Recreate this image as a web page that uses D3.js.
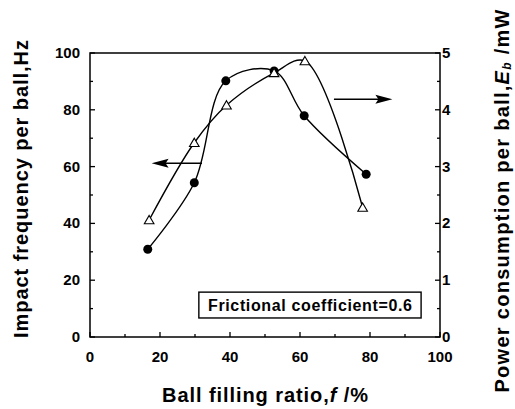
<!DOCTYPE html>
<html>
<head>
    <script src="https://d3js.org/d3.v7.min.js"></script>
    <style>
        body { margin: 0; background: #fff; }
        text { font-family: "Liberation Sans", Arial, sans-serif; font-weight: bold; fill: #000; }
    </style>
</head>
<body>
    <svg width="515" height="409"></svg>

    <script>
        // ball filling ratio f (%)
        var fillCircle = [16.5, 29.8, 38.8, 52.6, 61.2, 78.9];
        // impact frequency per ball (Hz), left axis
        var impactFreq = [30.9, 54.3, 90.2, 93.7, 77.9, 57.3];

        var fillTriangle = [16.9, 29.8, 39.0, 52.6, 61.4, 77.9];
        // power consumption per ball (mW), right axis
        var powerCons = [2.06, 3.42, 4.08, 4.65, 4.86, 2.28];

        var xTicks = [0, 20, 40, 60, 80, 100];
        var yLeftTicks = [0, 20, 40, 60, 80, 100];
        var yRightTicks = [0, 1, 2, 3, 4, 5];

        // arrows: [f start, f end, left-axis level]
        var arrowLeft = [32.0, 17.6, 61.2];
        var arrowRight = [69.7, 86.4, 83.7];

        var width = 515, height = 409;
        var margin = {left: 90, right: 75, top: 53, bottom: 72};

        var svg = d3.select("svg");

        var x = d3.scaleLinear().domain([0, 100]).range([margin.left, width - margin.right]);
        var yL = d3.scaleLinear().domain([0, 100]).range([height - margin.bottom, margin.top]);
        var yR = d3.scaleLinear().domain([0, 5]).range([height - margin.bottom, margin.top]);

        // frame
        svg.append("rect")
            .attr("x", x(0)).attr("y", yL(100))
            .attr("width", x(100) - x(0)).attr("height", yL(0) - yL(100))
            .attr("fill", "none").attr("stroke", "#000").attr("stroke-width", 1.5);

        // inward ticks
        var ticks = svg.append("g").attr("stroke", "#000").attr("stroke-width", 1.3);
        d3.range(0, 101, 10).forEach(function(v) {
            var len = v % 20 === 0 ? 5 : 3;
            ticks.append("line").attr("x1", x(v)).attr("x2", x(v))
                .attr("y1", yL(0)).attr("y2", yL(0) - len);
            ticks.append("line").attr("x1", x(0)).attr("x2", x(0) + len)
                .attr("y1", yL(v)).attr("y2", yL(v));
        });
        d3.range(0, 5.01, 0.5).forEach(function(v) {
            var len = v % 1 === 0 ? 5 : 3;
            ticks.append("line").attr("x1", x(100)).attr("x2", x(100) - len)
                .attr("y1", yR(v)).attr("y2", yR(v));
        });

        // tick labels
        svg.selectAll(".xl").data(xTicks).enter().append("text")
            .attr("x", function(d) { return x(d); })
            .attr("y", 362)
            .attr("text-anchor", "middle")
            .style("font-size", "15px")
            .text(function(d) { return d; });

        svg.selectAll(".yl").data(yLeftTicks).enter().append("text")
            .attr("x", 80)
            .attr("y", function(d) { return yL(d) + 5; })
            .attr("text-anchor", "end")
            .style("font-size", "15px")
            .text(function(d) { return d; });

        svg.selectAll(".yr").data(yRightTicks).enter().append("text")
            .attr("x", 442)
            .attr("y", function(d) { return yR(d) + 5; })
            .attr("text-anchor", "start")
            .style("font-size", "15px")
            .text(function(d) { return d; });

        // axis titles
        svg.append("text")
            .attr("x", 265).attr("y", 402)
            .attr("text-anchor", "middle")
            .attr("textLength", 206).attr("lengthAdjust", "spacing")
            .style("font-size", "20px")
            .html('Ball filling ratio,<tspan font-style="italic">f</tspan> /%');

        svg.append("text")
            .attr("transform", "translate(28,189) rotate(-90)")
            .attr("text-anchor", "middle")
            .attr("textLength", 298).attr("lengthAdjust", "spacing")
            .style("font-size", "20px")
            .text("Impact frequency per ball,Hz");

        svg.append("text")
            .attr("transform", "translate(509,201) rotate(-90)")
            .attr("text-anchor", "middle")
            .attr("textLength", 383).attr("lengthAdjust", "spacing")
            .style("font-size", "20px")
            .html('Power consumption per ball,<tspan font-style="italic">E</tspan><tspan font-size="12px" font-style="italic" dy="2">b</tspan><tspan dy="-2"> /mW</tspan>');

        // curves
        var circlePts = fillCircle.map(function(f, i) { return [f, impactFreq[i]]; });
        var triPts = fillTriangle.map(function(f, i) { return [f, powerCons[i]]; });

        svg.append("path")
            .datum(circlePts)
            .attr("fill", "none").attr("stroke", "#000").attr("stroke-width", 1.4)
            .attr("d", d3.line()
                .x(function(d) { return x(d[0]); })
                .y(function(d) { return yL(d[1]); })
                .curve(d3.curveCatmullRom.alpha(0.5)));

        svg.append("path")
            .datum(triPts)
            .attr("fill", "none").attr("stroke", "#000").attr("stroke-width", 1.4)
            .attr("d", d3.line()
                .x(function(d) { return x(d[0]); })
                .y(function(d) { return yR(d[1]); })
                .curve(d3.curveCatmullRom.alpha(0.5)));

        // markers
        svg.selectAll(".dot").data(circlePts).enter().append("circle")
            .attr("cx", function(d) { return x(d[0]); })
            .attr("cy", function(d) { return yL(d[1]); })
            .attr("r", 4.5)
            .attr("fill", "#000");

        svg.selectAll(".tri").data(triPts).enter().append("path")
            .attr("d", d3.symbol().type(d3.symbolTriangle).size(40))
            .attr("transform", function(d) { return "translate(" + x(d[0]) + "," + (yR(d[1]) + 1) + ")"; })
            .attr("fill", "#fff").attr("stroke", "#000").attr("stroke-width", 1.1);

        // arrows
        function drawArrow(a) {
            var x1 = x(a[0]), x2 = x(a[1]), yy = yL(a[2]);
            var dir = x2 > x1 ? 1 : -1;
            svg.append("line")
                .attr("x1", x1).attr("x2", x2 - dir * 10)
                .attr("y1", yy).attr("y2", yy)
                .attr("stroke", "#000").attr("stroke-width", 1.5);
            svg.append("path")
                .attr("d", "M" + x2 + "," + yy + "L" + (x2 - dir * 17) + "," + (yy - 4.5) +
                    "L" + (x2 - dir * 14) + "," + yy + "L" + (x2 - dir * 17) + "," + (yy + 4.5) + "Z")
                .attr("fill", "#000");
        }
        drawArrow(arrowLeft);
        drawArrow(arrowRight);

        // note box
        var box = svg.append("g");
        box.append("rect")
            .attr("x", x(31.1)).attr("y", yL(15.8))
            .attr("width", x(94.6) - x(31.1)).attr("height", yL(6.7) - yL(15.8))
            .attr("fill", "#fff").attr("stroke", "#000").attr("stroke-width", 1.4);
        box.append("text")
            .attr("x", (x(31.1) + x(94.6)) / 2).attr("y", yL(15.8) + 19)
            .attr("text-anchor", "middle")
            .attr("textLength", 204).attr("lengthAdjust", "spacing")
            .style("font-size", "16px")
            .text("Frictional coefficient=0.6");
    </script>
</body>
</html>
